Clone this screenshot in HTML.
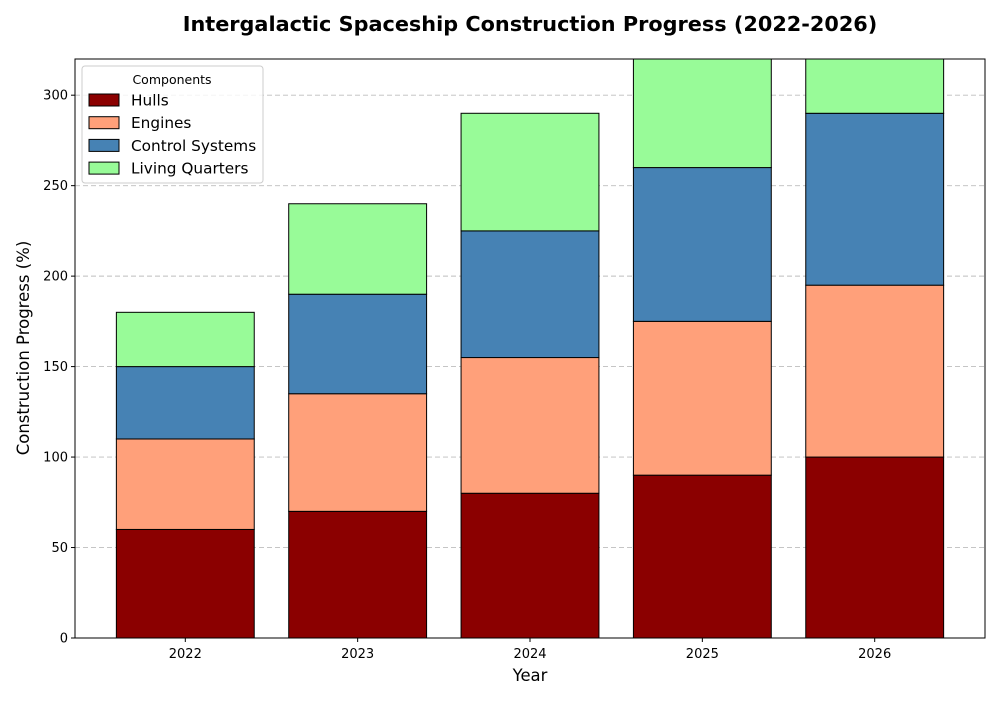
<!DOCTYPE html>
<html><head><meta charset="utf-8"><style>
body{margin:0;background:#fff;font-family:"Liberation Sans","DejaVu Sans",sans-serif;}
</style></head><body>
<svg id="chart" width="1000" height="700" font-family="DejaVu Sans, Liberation Sans, sans-serif">
<defs><clipPath id="plotclip"><rect x="75" y="59" width="910" height="579"/></clipPath></defs>
<text x="530" y="31" text-anchor="middle" font-size="20.8" font-weight="bold">Intergalactic Spaceship Construction Progress (2022-2026)</text>
<g id="grid"></g>
<g id="bars" clip-path="url(#plotclip)"></g>
<rect x="75" y="59" width="910" height="579" fill="none" stroke="#000" stroke-width="1"/>
<g id="axes"></g>
<text x="530" y="681" text-anchor="middle" font-size="16.4">Year</text>
<text transform="translate(29,348) rotate(-90)" text-anchor="middle" font-size="16.5">Construction Progress (%)</text>
<g id="legend"></g>
</svg>
<script>
const categories = ["2022","2023","2024","2025","2026"];
const seriesNames = ["Hulls","Engines","Control Systems","Living Quarters"];
const hulls = [60,70,80,90,100];
const engines = [50,65,75,85,95];
const controlSystems = [40,55,70,85,95];
const livingQuarters = [30,50,65,70,80];
const yTicks = [0,50,100,150,200,250,300];
const colors = ["#8b0000","#ffa07a","#4682b4","#98fb98"];
const series = [hulls,engines,controlSystems,livingQuarters];
const NS="http://www.w3.org/2000/svg";
const X0=75,X1=985,Y0=638,Y1=59,yMax=320;
const xs=i=>X0+(i+0.64)/(categories.length-1+1.28)*(X1-X0);
const ys=v=>Y0-v/yMax*(Y0-Y1);
const step=(X1-X0)/(categories.length-1+1.28);
const bw=0.8*step;
function mk(tag,attrs,parent){const e=document.createElementNS(NS,tag);for(const k in attrs)e.setAttribute(k,attrs[k]);parent.appendChild(e);return e;}
const grid=document.getElementById('grid'),axes=document.getElementById('axes'),bars=document.getElementById('bars'),legend=document.getElementById('legend');
yTicks.forEach(t=>{
  const y=ys(t);
  const g=mk('line',{x1:X0,x2:X1,y1:y,y2:y,stroke:'#bdbdbd','stroke-dasharray':'5,3','stroke-width':0.9},grid);
  
  
  mk('line',{x1:X0-4,x2:X0,y1:y,y2:y,stroke:'#000'},axes);
  const tx=mk('text',{x:X0-7,y:y+4.5,'text-anchor':'end','font-size':13},axes);
  tx.textContent=t;
  
  
});
categories.forEach((c,i)=>{
  const x=xs(i);
  mk('line',{x1:x,x2:x,y1:Y0,y2:Y0+4,stroke:'#000'},axes);
  const tx=mk('text',{x:x,y:Y0+20,'text-anchor':'middle','font-size':13},axes);
  tx.textContent=c;
  
  
  let base=0;
  series.forEach((s,k)=>{
    const r=mk('rect',{x:x-bw/2,y:ys(base+s[i]),width:bw,height:ys(base)-ys(base+s[i]),fill:colors[k],stroke:'#000','stroke-width':1},bars);
    
    
    base+=s[i];
  });
});
const lb=mk('rect',{x:82,y:66,width:181,height:117,fill:'#fff','fill-opacity':0.8,stroke:'#ccc',rx:3},legend);


const lt=mk('text',{x:172,y:84,'text-anchor':'middle','font-size':12.5},legend);
lt.textContent='Components';


seriesNames.forEach((n,k)=>{
  const y=94+k*22.7;
  const sw=mk('rect',{x:89,y:y,width:30,height:12,fill:colors[k],stroke:'#000'},legend);
  
  
  const t=mk('text',{x:131,y:y+11.5,'font-size':15.3},legend);
  t.textContent=n;
  
  
});
</script>
</body></html>
